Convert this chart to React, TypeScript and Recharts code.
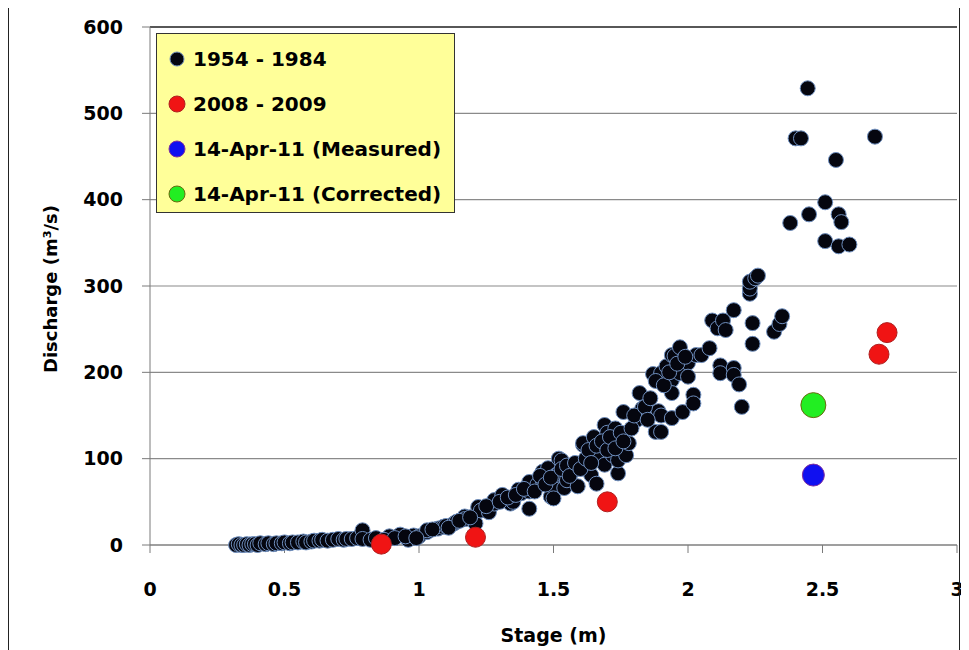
import React from 'react';
import { ScatterChart, Scatter, XAxis, YAxis, CartesianGrid, ReferenceLine } from 'recharts';

// stage (m), discharge (m3/s)
const histStage = [
  0.32, 0.33, 0.34, 0.35, 0.36, 0.37, 0.38, 0.39, 0.4, 0.41, 0.43, 0.44, 0.46, 0.47, 0.49, 0.5, 0.52, 0.53, 0.55, 0.57,
  0.58, 0.6, 0.61, 0.63, 0.64, 0.66, 0.68, 0.7, 0.72, 0.73, 0.75, 0.77, 0.79, 0.79, 0.82, 0.84,
  0.89, 0.93, 0.96, 0.98, 1.0, 1.03, 1.03, 1.07, 1.09, 1.1, 1.13, 1.14, 1.17, 1.17, 1.21, 1.22, 1.23, 1.26, 1.28, 1.28,
  1.31, 1.31, 1.34, 1.35, 1.37, 1.38, 1.41, 1.41, 1.41, 1.41, 1.44, 1.46, 1.46, 1.48, 1.49, 1.5, 1.5, 1.51, 1.52, 1.52,
  1.53, 1.54, 1.55, 1.57, 1.59, 1.59, 1.61, 1.61, 1.61, 1.64, 1.65, 1.66, 1.67, 1.69, 1.69, 1.7, 1.72, 1.72, 1.73, 1.74,
  1.74, 1.76, 1.77, 1.78, 1.81, 1.82, 1.83, 1.87, 1.88, 1.89, 1.9, 1.9, 1.9, 1.92, 1.94, 1.94, 1.94, 1.94, 1.95, 1.97,
  1.97, 1.98, 2.0, 2.02, 2.02, 2.03,
  0.87, 0.91, 0.95, 0.99, 1.05, 1.11, 1.15, 1.19,
  1.25, 1.3, 1.33, 1.36, 1.39, 1.43, 1.45, 1.47, 1.49, 1.53, 1.55, 1.56, 1.58, 1.6, 1.62, 1.63, 1.64, 1.66, 1.68, 1.7,
  1.71, 1.73, 1.75, 1.76, 1.79, 1.8, 1.84, 1.85, 1.86, 1.88, 1.91, 1.93, 1.96, 1.99, 2.0,
  2.05, 2.08, 2.09, 2.11, 2.12, 2.12, 2.13, 2.14, 2.17, 2.17, 2.17, 2.19, 2.2, 2.23, 2.23, 2.23, 2.25, 2.26, 2.24, 2.24,
  2.32, 2.34, 2.35,
  2.38, 2.4, 2.42, 2.445, 2.45, 2.51, 2.51, 2.55, 2.56, 2.57, 2.56, 2.6, 2.695,
];
const histFlow = [
  0, 1, 0, 0, 1, 0, 1, 1, 0, 2, 1, 2, 1, 2, 2, 3, 2, 3, 3, 4,
  3, 4, 5, 5, 6, 5, 6, 7, 6, 7, 7, 8, 17, 7, 6, 8,
  10, 12, 6, 11, 10, 15, 17, 19, 21, 22, 25, 27, 33, 30, 25, 44, 40, 38, 48, 52,
  56, 58, 48, 50, 64, 60, 68, 73, 42, 62, 70, 75, 85, 89, 56, 68, 54, 81, 83, 100,
  98, 66, 75, 85, 68, 90, 93, 116, 118, 81, 125, 71, 106, 139, 93, 130, 104, 120, 135, 83,
  98, 154, 104, 118, 145, 176, 158, 198, 131, 155, 150, 199, 131, 207, 220, 191, 176, 147, 219, 229,
  199, 154, 211, 174, 164, 220,
  6, 8, 10, 8, 18, 20, 28, 32,
  45, 50, 55, 58, 65, 62, 80, 70, 78, 88, 92, 80, 95, 88, 100, 110, 95, 115, 120, 110,
  125, 112, 130, 120, 135, 150, 160, 145, 170, 190, 185, 200, 210, 218, 195,
  220, 228, 260, 251, 208, 199, 260, 249, 272, 205, 197, 186, 160, 291, 297, 305, 309, 312, 257, 233,
  247, 256, 265,
  373, 471, 471, 529, 383, 397, 352, 446, 383, 374, 346, 348, 473,
];

const recentStage = [0.86, 1.21, 1.7, 2.71, 2.74];
const recentFlow = [1, 9, 50, 221, 246];

const measuredStage = [2.466];
const measuredFlow = [81];

const correctedStage = [2.466];
const correctedFlow = [162];

const xTicks = [0, 0.5, 1, 1.5, 2, 2.5, 3];
const yTicks = [0, 100, 200, 300, 400, 500, 600];

const toPoints = (xs: number[], ys: number[]) => xs.map((x, i) => ({ stage: x, flow: ys[i] }));

const histData = toPoints(histStage, histFlow);
const recentData = toPoints(recentStage, recentFlow);
const measuredData = toPoints(measuredStage, measuredFlow);
const correctedData = toPoints(correctedStage, correctedFlow);

const FONT = '"DejaVu Sans", Verdana, sans-serif';

const series = [
  { name: '1954 - 1984', fill: '#05060f', stroke: '#6f8fbf', r: 7 },
  { name: '2008 - 2009', fill: '#f01414', stroke: '#b02020', r: 8 },
  { name: '14-Apr-11 (Measured)', fill: '#1010f0', stroke: '#8030a0', r: 8 },
  { name: '14-Apr-11 (Corrected)', fill: '#22ee22', stroke: '#6a6a10', r: 8 },
];

const dot = (r: number, fill: string, stroke: string) => (props: any) => (
  <circle cx={props.cx} cy={props.cy} r={r} fill={fill} stroke={stroke} strokeWidth={1} />
);

const LegendBox = () => (
  <div
    style={{
      position: 'absolute',
      left: 148,
      top: 28,
      width: 299,
      height: 180,
      background: '#ffff99',
      border: '1px solid #333',
      boxSizing: 'border-box',
      paddingTop: 2,
      fontFamily: FONT,
      fontWeight: 'bold',
      fontSize: 20,
      color: '#000',
    }}
  >
    {series.map((s) => (
      <div key={s.name} style={{ height: 45, display: 'flex', alignItems: 'center' }}>
        <svg width={36} height={20} style={{ flex: 'none' }}>
          <circle cx={20} cy={10} r={s.r} fill={s.fill} stroke={s.stroke} strokeWidth={1} />
        </svg>
        <span style={{ whiteSpace: 'nowrap' }}>{s.name}</span>
      </div>
    ))}
  </div>
);

const YLabel = (props: any) => {
  const vb = props.viewBox;
  const x = vb.x + 42;
  const y = vb.y + vb.height / 2 + 3;
  return (
    <text
      x={x}
      y={y}
      transform={`rotate(-90, ${x}, ${y})`}
      textAnchor="middle"
      dominantBaseline="central"
      fontFamily={FONT}
      fontWeight="bold"
      fontSize={18}
      fill="#000"
    >
      Discharge (m³/s)
    </text>
  );
};

const XLabel = (props: any) => {
  const vb = props.viewBox;
  return (
    <text
      x={vb.x + vb.width / 2}
      y={vb.y + 90}
      textAnchor="middle"
      dominantBaseline="central"
      fontFamily={FONT}
      fontWeight="bold"
      fontSize={19}
      fill="#000"
    >
      Stage (m)
    </text>
  );
};

export default function App() {
  const tickStyle = { fontSize: 19, fontWeight: 'bold', fill: '#000', fontFamily: FONT };
  return (
    <div style={{ position: 'relative', marginTop: -3, width: 961, height: 645, fontFamily: FONT }}>
      <ScatterChart width={961} height={645} margin={{ top: 22, right: 12, left: 0, bottom: 0 }}>
        <CartesianGrid horizontal vertical={false} stroke="#8a8a8a" strokeWidth={1.2} />
        <XAxis
          type="number"
          dataKey="stage"
          domain={[0, 3]}
          ticks={xTicks}
          interval={0}
          height={105}
          tickSize={8}
          tickMargin={30}
          stroke="#7a7a7a"
          tick={tickStyle}
          label={<XLabel />}
        />
        <YAxis
          type="number"
          dataKey="flow"
          domain={[0, 600]}
          ticks={yTicks}
          interval={0}
          width={142}
          tickSize={8}
          tickMargin={19}
          stroke="#7a7a7a"
          tick={tickStyle}
          label={<YLabel />}
        />
        <ReferenceLine y={600} stroke="#333" strokeWidth={1.5} />
        <Scatter name={series[0].name} data={histData} isAnimationActive={false} shape={dot(7.5, series[0].fill, series[0].stroke)} />
        <Scatter name={series[1].name} data={recentData} isAnimationActive={false} shape={dot(10, series[1].fill, series[1].stroke)} />
        <Scatter name={series[2].name} data={measuredData} isAnimationActive={false} shape={dot(11, series[2].fill, series[2].stroke)} />
        <Scatter name={series[3].name} data={correctedData} isAnimationActive={false} shape={dot(12.5, series[3].fill, series[3].stroke)} />
      </ScatterChart>
      <div
        style={{
          position: 'absolute',
          left: 0,
          top: 0,
          width: 952,
          height: 700,
          border: '1.5px solid #222',
          boxSizing: 'border-box',
          pointerEvents: 'none',
        }}
      />
      <LegendBox />
    </div>
  );
}
